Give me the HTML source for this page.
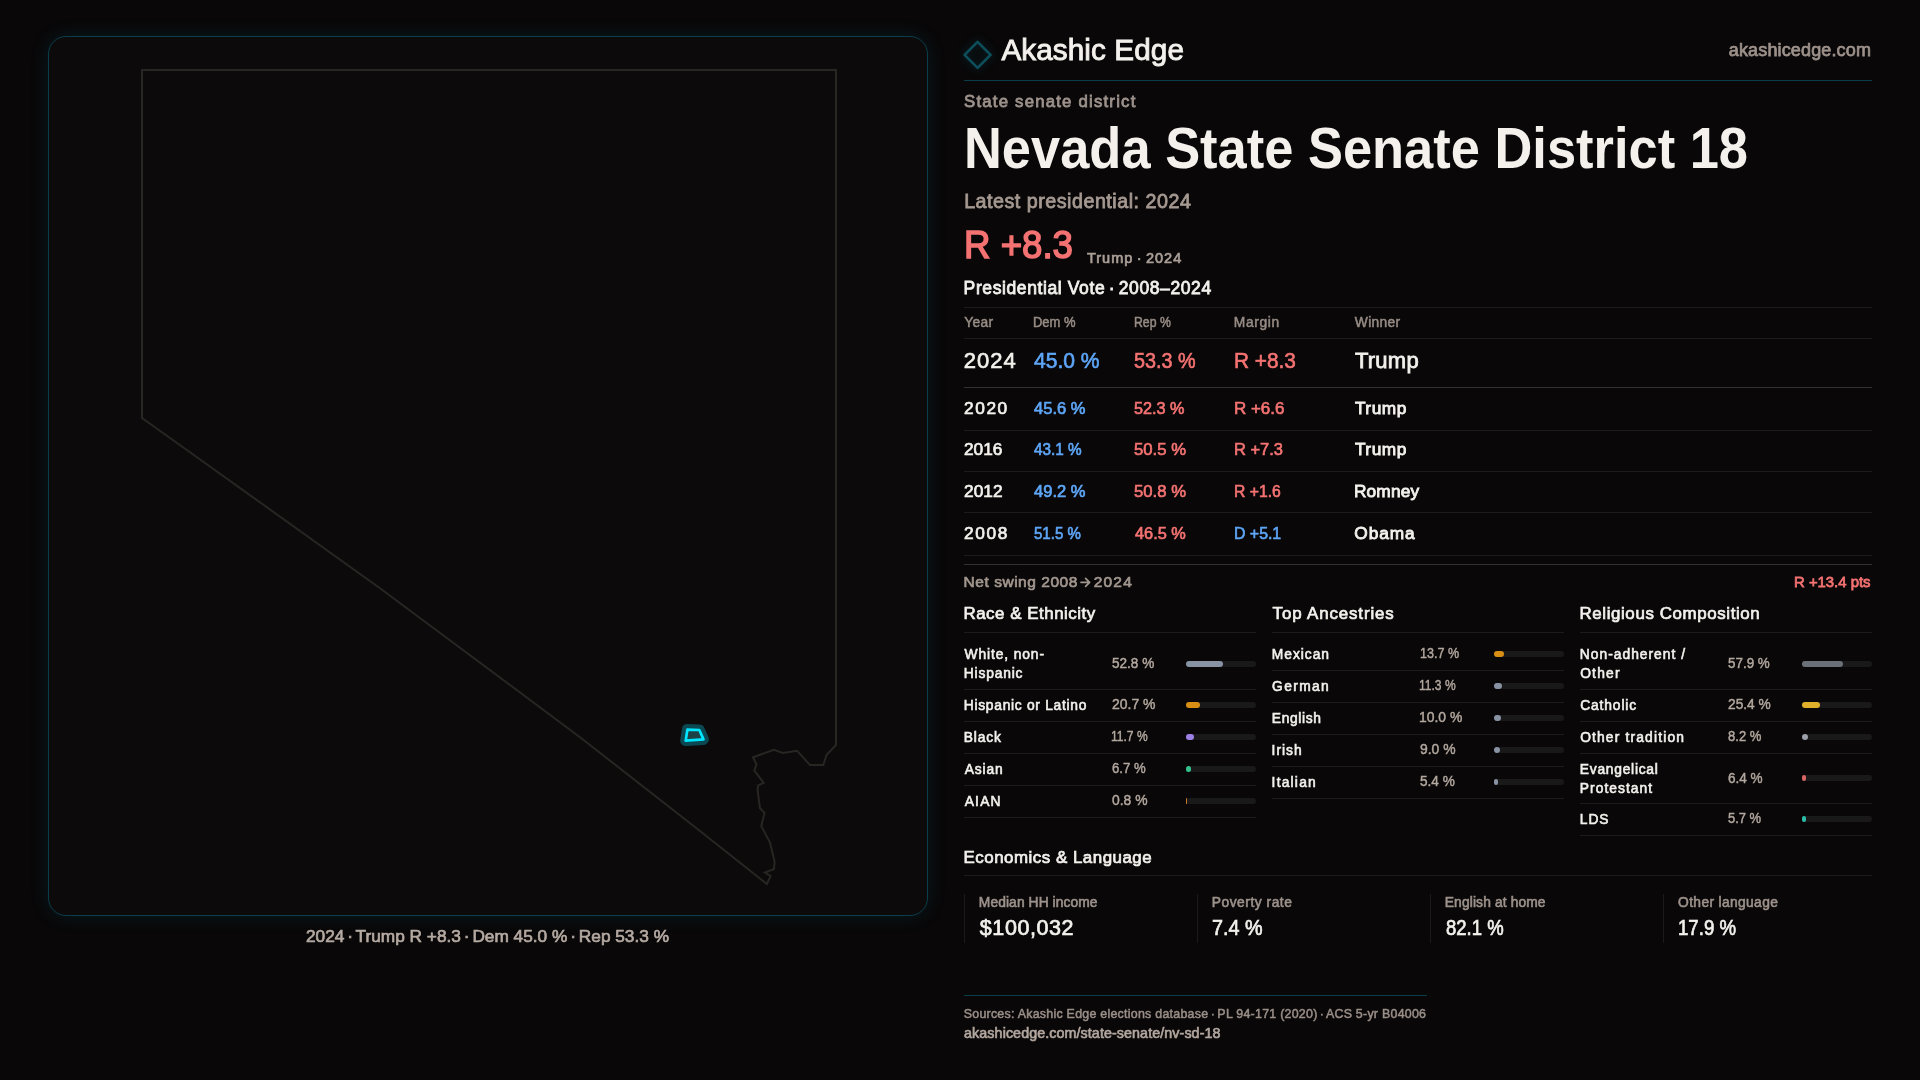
<!DOCTYPE html>
<html><head><meta charset="utf-8"><title>Nevada State Senate District 18</title>
<style>
html,body{margin:0;padding:0;}
body{width:1920px;height:1080px;overflow:hidden;background:#090708;position:relative;font-family:"Liberation Sans",sans-serif;}
.t{position:absolute;white-space:nowrap;line-height:1;}
.layer{position:absolute;left:0;top:0;width:1920px;height:1080px;will-change:transform;}
.r{position:absolute;}
.card{position:absolute;left:48px;top:36px;width:878px;height:878px;border:1px solid #0b3e4b;border-radius:18px;background:#0c0a0b;box-shadow:0 0 20px rgba(0,170,200,0.12);}
svg{position:absolute;left:0;top:0;}
.diamond{position:absolute;left:967px;top:44.2px;width:16px;height:16px;border:2.6px solid #0c4f5b;border-radius:2px;transform:rotate(45deg);box-shadow:0 0 12px rgba(0,170,200,0.10);}
</style></head><body>
<div class="card"></div>
<svg width="1920" height="1080" viewBox="0 0 1920 1080">
<path d="M1081,582.3 L1089.3,582.3 M1085.6,578.3 L1089.6,582.3 L1085.6,586.3" fill="none" stroke="#a2978f" stroke-width="1.7" stroke-linecap="round" stroke-linejoin="round"/>
<path d="M142,70 L836,70 L836,745 L826.5,755 L823.3,765 L810,765 L797,750.7 L782.8,753 L774,749.8 L753,757.2 L756.5,764.3 L754.3,770.5 L763.7,782.8 L758.1,785.4 L757.6,790 L759.9,808 L764.5,813.1 L761.3,826.1 L770.1,842.8 L774.7,862.2 L773.8,869.2 L765,872.4 L770.6,876.1 L766.9,884 L700,831 L580,737.2 L380,588.3 L190,452.2 L142,418 Z" fill="none" stroke="#292523" stroke-width="2" stroke-linejoin="miter"/>
<path d="M687.4,729.6 L699.3,730 L703.5,739.4 L685.7,740.6 Z" fill="#0b4852" stroke="#0b4852" stroke-width="11" stroke-linejoin="round"/>
<path d="M687.4,729.6 L699.3,730 L703.5,739.4 L685.7,740.6 Z" fill="#1c4246" stroke="none"/>
<path d="M687.4,729.6 L699.3,730 L703.5,739.4 L685.7,740.6 Z" fill="none" stroke="#00e5ff" stroke-width="2.7" stroke-linejoin="round"/>
</svg>
<svg width="1920" height="1080" style="position:absolute;left:0;top:0;overflow:visible"><path d="M977.6,41.8 L990.6,54.8 L977.6,67.8 L964.6,54.8 Z" fill="none" stroke="#0c4f5b" stroke-width="2.6" stroke-linejoin="round" style="filter:drop-shadow(0 0 5px rgba(0,170,200,0.25))"/></svg>
<div class="layer"><div class="t" id="t0" style="left:1001.38px;top:35.00px;font-size:29.7px;color:#f4f1ed;-webkit-text-stroke:0.9px #f4f1ed;letter-spacing:0.095px;">Akashic Edge</div><div class="t" id="t1" style="left:1728.82px;top:41.00px;font-size:18px;color:#9d928b;-webkit-text-stroke:0.75px #9d928b;letter-spacing:0.144px;">akashicedge.com</div><div class="r" style="left:964px;top:80px;width:908px;height:1px;background:#0a3d4a;"></div><div class="t" id="t2" style="left:964.09px;top:94.00px;font-size:16.8px;color:#9d928b;-webkit-text-stroke:0.8px #9d928b;letter-spacing:1.193px;">State senate district</div><div class="t" id="t3" style="left:964.31px;top:120.00px;font-size:57px;color:#f4f1ed;font-weight:700;transform:scaleX(0.9200);transform-origin:0 0;">Nevada State Senate District 18</div><div class="t" id="t4" style="left:964.13px;top:192.00px;font-size:19.7px;color:#a59991;-webkit-text-stroke:0.8px #a59991;letter-spacing:0.508px;">Latest presidential: 2024</div><div class="t" id="t5" style="left:964.26px;top:226.00px;font-size:38px;color:#f47272;-webkit-text-stroke:1.5px #f47272;transform:scaleX(0.9644);transform-origin:0 0;">R +8.3</div><div class="t" id="t6" style="left:1087.01px;top:251.00px;font-size:14.5px;color:#aa9f97;-webkit-text-stroke:0.7px #aa9f97;letter-spacing:0.985px;">Trump <span style="margin:0 -1.59px">&middot;</span> 2024</div><div class="t" id="t7" style="left:963.62px;top:280.00px;font-size:17.5px;color:#f4f1ed;-webkit-text-stroke:0.8px #f4f1ed;letter-spacing:0.604px;">Presidential Vote <span style="margin:0 -1.93px">&middot;</span> 2008&ndash;2024</div><div class="r" style="left:964px;top:307px;width:908px;height:1px;background:#1d1a1b;"></div><div class="r" style="left:964px;top:338px;width:908px;height:1px;background:#1d1a1b;"></div><div class="t" id="t8" style="left:964.15px;top:316.00px;font-size:13.8px;color:#978c85;-webkit-text-stroke:0.5px #978c85;letter-spacing:0.381px;">Year</div><div class="t" id="t9" style="left:1033.35px;top:316.00px;font-size:13.8px;color:#978c85;-webkit-text-stroke:0.5px #978c85;transform:scaleX(0.9408);transform-origin:0 0;">Dem %</div><div class="t" id="t10" style="left:1133.58px;top:316.00px;font-size:13.8px;color:#978c85;-webkit-text-stroke:0.5px #978c85;transform:scaleX(0.8884);transform-origin:0 0;">Rep %</div><div class="t" id="t11" style="left:1233.84px;top:316.00px;font-size:13.8px;color:#978c85;-webkit-text-stroke:0.5px #978c85;letter-spacing:0.649px;">Margin</div><div class="t" id="t12" style="left:1354.84px;top:316.00px;font-size:13.8px;color:#978c85;-webkit-text-stroke:0.5px #978c85;letter-spacing:0.323px;">Winner</div><div class="t" id="t13" style="left:963.84px;top:350.00px;font-size:22px;color:#f4f1ed;-webkit-text-stroke:0.65px #f4f1ed;letter-spacing:0.953px;">2024</div><div class="t" id="t14" style="left:1034.31px;top:350.00px;font-size:22px;color:#5ea6f7;-webkit-text-stroke:0.65px #5ea6f7;transform:scaleX(0.9573);transform-origin:0 0;">45.0 %</div><div class="t" id="t15" style="left:1133.99px;top:350.00px;font-size:22px;color:#f47272;-webkit-text-stroke:0.65px #f47272;transform:scaleX(0.8998);transform-origin:0 0;">53.3 %</div><div class="t" id="t16" style="left:1233.74px;top:350.00px;font-size:22px;color:#f47272;-webkit-text-stroke:0.65px #f47272;transform:scaleX(0.9460);transform-origin:0 0;">R +8.3</div><div class="t" id="t17" style="left:1354.89px;top:350.00px;font-size:22px;color:#f4f1ed;-webkit-text-stroke:0.8px #f4f1ed;letter-spacing:0.254px;">Trump</div><div class="r" style="left:964px;top:387px;width:908px;height:1px;background:#333132;"></div><div class="t" id="t18" style="left:964.06px;top:400.00px;font-size:17.3px;color:#f4f1ed;-webkit-text-stroke:0.7px #f4f1ed;letter-spacing:1.577px;">2020</div><div class="t" id="t19" style="left:1034.43px;top:400.00px;font-size:17.3px;color:#5ea6f7;-webkit-text-stroke:0.7px #5ea6f7;transform:scaleX(0.9571);transform-origin:0 0;">45.6 %</div><div class="t" id="t20" style="left:1134.28px;top:400.00px;font-size:17.3px;color:#f47272;-webkit-text-stroke:0.7px #f47272;transform:scaleX(0.9388);transform-origin:0 0;">52.3 %</div><div class="t" id="t21" style="left:1233.85px;top:400.00px;font-size:17.3px;color:#f47272;-webkit-text-stroke:0.7px #f47272;transform:scaleX(0.9810);transform-origin:0 0;">R +6.6</div><div class="t" id="t22" style="left:1354.88px;top:400.00px;font-size:17.3px;color:#f4f1ed;-webkit-text-stroke:0.85px #f4f1ed;letter-spacing:0.558px;">Trump</div><div class="r" style="left:964px;top:430px;width:908px;height:1px;background:#1d1a1b;"></div><div class="t" id="t23" style="left:964.09px;top:441.00px;font-size:17.3px;color:#f4f1ed;-webkit-text-stroke:0.7px #f4f1ed;transform:scaleX(0.9984);transform-origin:0 0;">2016</div><div class="t" id="t24" style="left:1034.45px;top:441.00px;font-size:17.3px;color:#5ea6f7;-webkit-text-stroke:0.7px #5ea6f7;transform:scaleX(0.8856);transform-origin:0 0;">43.1 %</div><div class="t" id="t25" style="left:1134.32px;top:441.00px;font-size:17.3px;color:#f47272;-webkit-text-stroke:0.7px #f47272;transform:scaleX(0.9660);transform-origin:0 0;">50.5 %</div><div class="t" id="t26" style="left:1233.83px;top:441.00px;font-size:17.3px;color:#f47272;-webkit-text-stroke:0.7px #f47272;transform:scaleX(0.9508);transform-origin:0 0;">R +7.3</div><div class="t" id="t27" style="left:1354.88px;top:441.00px;font-size:17.3px;color:#f4f1ed;-webkit-text-stroke:0.85px #f4f1ed;letter-spacing:0.558px;">Trump</div><div class="r" style="left:964px;top:471px;width:908px;height:1px;background:#1d1a1b;"></div><div class="t" id="t28" style="left:964.06px;top:483.00px;font-size:17.3px;color:#f4f1ed;-webkit-text-stroke:0.7px #f4f1ed;letter-spacing:0.042px;">2012</div><div class="t" id="t29" style="left:1034.43px;top:483.00px;font-size:17.3px;color:#5ea6f7;-webkit-text-stroke:0.7px #5ea6f7;transform:scaleX(0.9571);transform-origin:0 0;">49.2 %</div><div class="t" id="t30" style="left:1134.32px;top:483.00px;font-size:17.3px;color:#f47272;-webkit-text-stroke:0.7px #f47272;transform:scaleX(0.9660);transform-origin:0 0;">50.8 %</div><div class="t" id="t31" style="left:1233.73px;top:483.00px;font-size:17.3px;color:#f47272;-webkit-text-stroke:0.7px #f47272;transform:scaleX(0.9096);transform-origin:0 0;">R +1.6</div><div class="t" id="t32" style="left:1353.96px;top:483.00px;font-size:17.3px;color:#f4f1ed;-webkit-text-stroke:0.85px #f4f1ed;letter-spacing:0.150px;">Romney</div><div class="r" style="left:964px;top:512px;width:908px;height:1px;background:#1d1a1b;"></div><div class="t" id="t33" style="left:964.06px;top:525.00px;font-size:17.3px;color:#f4f1ed;-webkit-text-stroke:0.7px #f4f1ed;letter-spacing:1.616px;">2008</div><div class="t" id="t34" style="left:1034.12px;top:525.00px;font-size:17.3px;color:#5ea6f7;-webkit-text-stroke:0.7px #5ea6f7;transform:scaleX(0.8706);transform-origin:0 0;">51.5 %</div><div class="t" id="t35" style="left:1134.60px;top:525.00px;font-size:17.3px;color:#f47272;-webkit-text-stroke:0.7px #f47272;transform:scaleX(0.9452);transform-origin:0 0;">46.5 %</div><div class="t" id="t36" style="left:1233.87px;top:525.00px;font-size:17.3px;color:#5ea6f7;-webkit-text-stroke:0.7px #5ea6f7;transform:scaleX(0.9179);transform-origin:0 0;">D +5.1</div><div class="t" id="t37" style="left:1354.36px;top:525.00px;font-size:17.3px;color:#f4f1ed;-webkit-text-stroke:0.85px #f4f1ed;letter-spacing:0.907px;">Obama</div><div class="r" style="left:964px;top:555px;width:908px;height:1px;background:#1d1a1b;"></div><div class="r" style="left:964px;top:564px;width:908px;height:1px;background:#333132;"></div><div class="t" id="t38" style="left:963.62px;top:574.00px;font-size:15.5px;color:#a2978f;-webkit-text-stroke:0.7px #a2978f;letter-spacing:0.528px;">Net swing 2008</div><div class="t" id="t39" style="left:1093.84px;top:574.00px;font-size:15.5px;color:#a2978f;-webkit-text-stroke:0.7px #a2978f;letter-spacing:1.148px;">2024</div><div class="t" id="t40" style="left:1794.12px;top:574.00px;font-size:15.5px;color:#f47272;-webkit-text-stroke:0.8px #f47272;transform:scaleX(0.9600);transform-origin:0 0;">R +13.4 pts</div><div class="t" id="t41" style="left:963.46px;top:606.00px;font-size:16.9px;color:#f4f1ed;-webkit-text-stroke:0.7px #f4f1ed;letter-spacing:0.528px;">Race &amp; Ethnicity</div><div class="r" style="left:964px;top:632px;width:292px;height:1px;background:#1d1a1b;"></div><div class="t" id="t42" style="left:964.62px;top:648.00px;font-size:13.8px;color:#f4f1ed;-webkit-text-stroke:0.6px #f4f1ed;letter-spacing:0.885px;">White, non-</div><div class="t" id="t43" style="left:963.81px;top:667.00px;font-size:13.8px;color:#f4f1ed;-webkit-text-stroke:0.6px #f4f1ed;letter-spacing:0.814px;">Hispanic</div><div class="t" id="t44" style="left:1111.63px;top:656.00px;font-size:14.3px;color:#b3a89f;-webkit-text-stroke:0.45px #b3a89f;transform:scaleX(0.9497);transform-origin:0 0;">52.8 %</div><div class="r" style="left:1186px;top:661px;width:70px;height:6px;background:#1a1919;border-radius:3px;"></div><div class="r" style="left:1186px;top:661px;width:36.96px;height:6px;background:#8792a3;border-radius:3px;"></div><div class="r" style="left:964px;top:689px;width:292px;height:1px;background:#1d1a1b;"></div><div class="t" id="t45" style="left:963.81px;top:699.00px;font-size:13.8px;color:#f4f1ed;-webkit-text-stroke:0.6px #f4f1ed;letter-spacing:0.716px;">Hispanic or Latino</div><div class="t" id="t46" style="left:1111.68px;top:697.00px;font-size:14.3px;color:#b3a89f;-webkit-text-stroke:0.45px #b3a89f;transform:scaleX(0.9766);transform-origin:0 0;">20.7 %</div><div class="r" style="left:1186px;top:702px;width:70px;height:6px;background:#1a1919;border-radius:3px;"></div><div class="r" style="left:1186px;top:702px;width:14.49px;height:6px;background:#d98e14;border-radius:3px;"></div><div class="r" style="left:964px;top:721px;width:292px;height:1px;background:#1d1a1b;"></div><div class="t" id="t47" style="left:963.81px;top:731.00px;font-size:13.8px;color:#f4f1ed;-webkit-text-stroke:0.6px #f4f1ed;letter-spacing:0.863px;">Black</div><div class="t" id="t48" style="left:1111.39px;top:729.00px;font-size:14.3px;color:#b3a89f;-webkit-text-stroke:0.45px #b3a89f;transform:scaleX(0.8425);transform-origin:0 0;">11.7 %</div><div class="r" style="left:1186px;top:734px;width:70px;height:6px;background:#1a1919;border-radius:3px;"></div><div class="r" style="left:1186px;top:734px;width:8.19px;height:6px;background:#9d80e6;border-radius:3px;"></div><div class="r" style="left:964px;top:753px;width:292px;height:1px;background:#1d1a1b;"></div><div class="t" id="t49" style="left:964.64px;top:763.00px;font-size:13.8px;color:#f4f1ed;-webkit-text-stroke:0.6px #f4f1ed;letter-spacing:0.914px;">Asian</div><div class="t" id="t50" style="left:1111.71px;top:761.00px;font-size:14.3px;color:#b3a89f;-webkit-text-stroke:0.45px #b3a89f;transform:scaleX(0.9200);transform-origin:0 0;">6.7 %</div><div class="r" style="left:1186px;top:766px;width:70px;height:6px;background:#1a1919;border-radius:3px;"></div><div class="r" style="left:1186px;top:766px;width:4.69px;height:6px;background:#33c08a;border-radius:3px;"></div><div class="r" style="left:964px;top:785px;width:292px;height:1px;background:#1d1a1b;"></div><div class="t" id="t51" style="left:964.64px;top:795.00px;font-size:13.8px;color:#f4f1ed;-webkit-text-stroke:0.6px #f4f1ed;letter-spacing:1.243px;">AIAN</div><div class="t" id="t52" style="left:1111.59px;top:793.00px;font-size:14.3px;color:#b3a89f;-webkit-text-stroke:0.45px #b3a89f;transform:scaleX(0.9703);transform-origin:0 0;">0.8 %</div><div class="r" style="left:1186px;top:798px;width:70px;height:6px;background:#1a1919;border-radius:3px;"></div><div class="r" style="left:1186px;top:798px;width:0.56px;height:6px;background:#c8782a;border-radius:3px;"></div><div class="r" style="left:964px;top:817px;width:292px;height:1px;background:#1d1a1b;"></div><div class="t" id="t53" style="left:1272.60px;top:606.00px;font-size:16.9px;color:#f4f1ed;-webkit-text-stroke:0.7px #f4f1ed;letter-spacing:0.867px;">Top Ancestries</div><div class="r" style="left:1272px;top:632px;width:292px;height:1px;background:#1d1a1b;"></div><div class="t" id="t54" style="left:1271.81px;top:648.00px;font-size:13.8px;color:#f4f1ed;-webkit-text-stroke:0.6px #f4f1ed;letter-spacing:0.963px;">Mexican</div><div class="t" id="t55" style="left:1419.56px;top:646.00px;font-size:14.3px;color:#b3a89f;-webkit-text-stroke:0.45px #b3a89f;transform:scaleX(0.8776);transform-origin:0 0;">13.7 %</div><div class="r" style="left:1494px;top:651px;width:70px;height:6px;background:#1a1919;border-radius:3px;"></div><div class="r" style="left:1494px;top:651px;width:9.59px;height:6px;background:#d98e14;border-radius:3px;"></div><div class="r" style="left:1272px;top:670px;width:292px;height:1px;background:#1d1a1b;"></div><div class="t" id="t56" style="left:1272.10px;top:680.00px;font-size:13.8px;color:#f4f1ed;-webkit-text-stroke:0.6px #f4f1ed;letter-spacing:1.372px;">German</div><div class="t" id="t57" style="left:1419.39px;top:678.00px;font-size:14.3px;color:#b3a89f;-webkit-text-stroke:0.45px #b3a89f;transform:scaleX(0.8425);transform-origin:0 0;">11.3 %</div><div class="r" style="left:1494px;top:683px;width:70px;height:6px;background:#1a1919;border-radius:3px;"></div><div class="r" style="left:1494px;top:683px;width:7.91px;height:6px;background:#8792a3;border-radius:3px;"></div><div class="r" style="left:1272px;top:702px;width:292px;height:1px;background:#1d1a1b;"></div><div class="t" id="t58" style="left:1271.81px;top:712.00px;font-size:13.8px;color:#f4f1ed;-webkit-text-stroke:0.6px #f4f1ed;letter-spacing:0.636px;">English</div><div class="t" id="t59" style="left:1419.48px;top:710.00px;font-size:14.3px;color:#b3a89f;-webkit-text-stroke:0.45px #b3a89f;transform:scaleX(0.9712);transform-origin:0 0;">10.0 %</div><div class="r" style="left:1494px;top:715px;width:70px;height:6px;background:#1a1919;border-radius:3px;"></div><div class="r" style="left:1494px;top:715px;width:7.0px;height:6px;background:#8792a3;border-radius:3px;"></div><div class="r" style="left:1272px;top:734px;width:292px;height:1px;background:#1d1a1b;"></div><div class="t" id="t60" style="left:1271.59px;top:744.00px;font-size:13.8px;color:#f4f1ed;-webkit-text-stroke:0.6px #f4f1ed;letter-spacing:0.977px;">Irish</div><div class="t" id="t61" style="left:1419.62px;top:742.00px;font-size:14.3px;color:#b3a89f;-webkit-text-stroke:0.45px #b3a89f;transform:scaleX(0.9703);transform-origin:0 0;">9.0 %</div><div class="r" style="left:1494px;top:747px;width:70px;height:6px;background:#1a1919;border-radius:3px;"></div><div class="r" style="left:1494px;top:747px;width:6.3px;height:6px;background:#8792a3;border-radius:3px;"></div><div class="r" style="left:1272px;top:766px;width:292px;height:1px;background:#1d1a1b;"></div><div class="t" id="t62" style="left:1271.59px;top:776.00px;font-size:13.8px;color:#f4f1ed;-webkit-text-stroke:0.6px #f4f1ed;letter-spacing:1.217px;">Italian</div><div class="t" id="t63" style="left:1419.63px;top:774.00px;font-size:14.3px;color:#b3a89f;-webkit-text-stroke:0.45px #b3a89f;transform:scaleX(0.9500);transform-origin:0 0;">5.4 %</div><div class="r" style="left:1494px;top:779px;width:70px;height:6px;background:#1a1919;border-radius:3px;"></div><div class="r" style="left:1494px;top:779px;width:3.78px;height:6px;background:#8792a3;border-radius:3px;"></div><div class="r" style="left:1272px;top:798px;width:292px;height:1px;background:#1d1a1b;"></div><div class="t" id="t64" style="left:1579.46px;top:606.00px;font-size:16.9px;color:#f4f1ed;-webkit-text-stroke:0.7px #f4f1ed;letter-spacing:0.613px;">Religious Composition</div><div class="r" style="left:1580px;top:632px;width:292px;height:1px;background:#1d1a1b;"></div><div class="t" id="t65" style="left:1579.81px;top:648.00px;font-size:13.8px;color:#f4f1ed;-webkit-text-stroke:0.6px #f4f1ed;letter-spacing:1.014px;">Non-adherent /</div><div class="t" id="t66" style="left:1580.13px;top:667.00px;font-size:13.8px;color:#f4f1ed;-webkit-text-stroke:0.6px #f4f1ed;letter-spacing:1.244px;">Other</div><div class="t" id="t67" style="left:1727.71px;top:656.00px;font-size:14.3px;color:#b3a89f;-webkit-text-stroke:0.45px #b3a89f;transform:scaleX(0.9388);transform-origin:0 0;">57.9 %</div><div class="r" style="left:1802px;top:661px;width:70px;height:6px;background:#1a1919;border-radius:3px;"></div><div class="r" style="left:1802px;top:661px;width:40.53px;height:6px;background:#6b7079;border-radius:3px;"></div><div class="r" style="left:1580px;top:689px;width:292px;height:1px;background:#1d1a1b;"></div><div class="t" id="t68" style="left:1580.22px;top:699.00px;font-size:13.8px;color:#f4f1ed;-webkit-text-stroke:0.6px #f4f1ed;letter-spacing:0.877px;">Catholic</div><div class="t" id="t69" style="left:1727.78px;top:697.00px;font-size:14.3px;color:#b3a89f;-webkit-text-stroke:0.45px #b3a89f;transform:scaleX(0.9594);transform-origin:0 0;">25.4 %</div><div class="r" style="left:1802px;top:702px;width:70px;height:6px;background:#1a1919;border-radius:3px;"></div><div class="r" style="left:1802px;top:702px;width:17.78px;height:6px;background:#e0b02a;border-radius:3px;"></div><div class="r" style="left:1580px;top:721px;width:292px;height:1px;background:#1d1a1b;"></div><div class="t" id="t70" style="left:1580.13px;top:731.00px;font-size:13.8px;color:#f4f1ed;-webkit-text-stroke:0.6px #f4f1ed;letter-spacing:1.168px;">Other tradition</div><div class="t" id="t71" style="left:1727.85px;top:729.00px;font-size:14.3px;color:#b3a89f;-webkit-text-stroke:0.45px #b3a89f;transform:scaleX(0.9136);transform-origin:0 0;">8.2 %</div><div class="r" style="left:1802px;top:734px;width:70px;height:6px;background:#1a1919;border-radius:3px;"></div><div class="r" style="left:1802px;top:734px;width:5.74px;height:6px;background:#9ca0a8;border-radius:3px;"></div><div class="r" style="left:1580px;top:753px;width:292px;height:1px;background:#1d1a1b;"></div><div class="t" id="t72" style="left:1579.81px;top:763.00px;font-size:13.8px;color:#f4f1ed;-webkit-text-stroke:0.6px #f4f1ed;letter-spacing:0.749px;">Evangelical</div><div class="t" id="t73" style="left:1579.81px;top:782.00px;font-size:13.8px;color:#f4f1ed;-webkit-text-stroke:0.6px #f4f1ed;letter-spacing:1.045px;">Protestant</div><div class="t" id="t74" style="left:1727.56px;top:771.00px;font-size:14.3px;color:#b3a89f;-webkit-text-stroke:0.45px #b3a89f;transform:scaleX(0.9483);transform-origin:0 0;">6.4 %</div><div class="r" style="left:1802px;top:775px;width:70px;height:6px;background:#1a1919;border-radius:3px;"></div><div class="r" style="left:1802px;top:775px;width:4.48px;height:6px;background:#d96565;border-radius:3px;"></div><div class="r" style="left:1580px;top:803px;width:292px;height:1px;background:#1d1a1b;"></div><div class="t" id="t75" style="left:1579.84px;top:813.00px;font-size:13.8px;color:#f4f1ed;-webkit-text-stroke:0.6px #f4f1ed;letter-spacing:0.890px;">LDS</div><div class="t" id="t76" style="left:1727.53px;top:811.00px;font-size:14.3px;color:#b3a89f;-webkit-text-stroke:0.45px #b3a89f;transform:scaleX(0.9062);transform-origin:0 0;">5.7 %</div><div class="r" style="left:1802px;top:816px;width:70px;height:6px;background:#1a1919;border-radius:3px;"></div><div class="r" style="left:1802px;top:816px;width:3.99px;height:6px;background:#2bbfa8;border-radius:3px;"></div><div class="r" style="left:1580px;top:835px;width:292px;height:1px;background:#1d1a1b;"></div><div class="t" id="t77" style="left:963.57px;top:850.00px;font-size:16.9px;color:#f4f1ed;-webkit-text-stroke:0.7px #f4f1ed;letter-spacing:0.510px;">Economics &amp; Language</div><div class="r" style="left:964px;top:875px;width:908px;height:1px;background:#1d1a1b;"></div><div class="r" style="left:964px;top:894px;width:1px;height:49px;background:#1d1a1b;"></div><div class="t" id="t78" style="left:978.87px;top:896.00px;font-size:13.8px;color:#9d928b;-webkit-text-stroke:0.6px #9d928b;letter-spacing:0.090px;">Median HH income</div><div class="t" id="t79" style="left:979.86px;top:918.00px;font-size:21.5px;color:#f4f1ed;-webkit-text-stroke:0.7px #f4f1ed;letter-spacing:0.557px;">$100,032</div><div class="r" style="left:1197px;top:894px;width:1px;height:49px;background:#1d1a1b;"></div><div class="t" id="t80" style="left:1211.75px;top:896.00px;font-size:13.8px;color:#9d928b;-webkit-text-stroke:0.6px #9d928b;letter-spacing:0.525px;">Poverty rate</div><div class="t" id="t81" style="left:1212.30px;top:918.00px;font-size:21.5px;color:#f4f1ed;-webkit-text-stroke:0.7px #f4f1ed;transform:scaleX(0.9191);transform-origin:0 0;">7.4 %</div><div class="r" style="left:1430px;top:894px;width:1px;height:49px;background:#1d1a1b;"></div><div class="t" id="t82" style="left:1444.75px;top:896.00px;font-size:13.8px;color:#9d928b;-webkit-text-stroke:0.6px #9d928b;letter-spacing:0.133px;">English at home</div><div class="t" id="t83" style="left:1445.57px;top:918.00px;font-size:21.5px;color:#f4f1ed;-webkit-text-stroke:0.7px #f4f1ed;transform:scaleX(0.8606);transform-origin:0 0;">82.1 %</div><div class="r" style="left:1663px;top:894px;width:1px;height:49px;background:#1d1a1b;"></div><div class="t" id="t84" style="left:1678.08px;top:896.00px;font-size:13.8px;color:#9d928b;-webkit-text-stroke:0.6px #9d928b;letter-spacing:0.358px;">Other language</div><div class="t" id="t85" style="left:1677.72px;top:918.00px;font-size:21.5px;color:#f4f1ed;-webkit-text-stroke:0.7px #f4f1ed;transform:scaleX(0.8659);transform-origin:0 0;">17.9 %</div><div class="r" style="left:964px;top:995px;width:463px;height:1px;background:#0a3d4a;"></div><div class="t" id="t86" style="left:963.71px;top:1008.00px;font-size:12.4px;color:#9a8f88;-webkit-text-stroke:0.5px #9a8f88;letter-spacing:0.260px;">Sources: Akashic Edge elections database <span style="margin:0 -1.36px">&middot;</span> PL 94-171 (2020) <span style="margin:0 -1.36px">&middot;</span> ACS 5-yr B04006</div><div class="t" id="t87" style="left:964.09px;top:1026.00px;font-size:14.3px;color:#b3a79f;-webkit-text-stroke:0.65px #b3a79f;letter-spacing:0.080px;">akashicedge.com/state-senate/nv-sd-18</div><div class="t" id="t88" style="left:305.67px;top:928.00px;font-size:17.3px;color:#b5aaa2;-webkit-text-stroke:0.7px #b5aaa2;transform:scaleX(0.9977);transform-origin:0 0;">2024 <span style="margin:0 -1.9px">&middot;</span> Trump R +8.3 <span style="margin:0 -1.9px">&middot;</span> Dem 45.0 % <span style="margin:0 -1.9px">&middot;</span> Rep 53.3 %</div></div>
</body></html>
